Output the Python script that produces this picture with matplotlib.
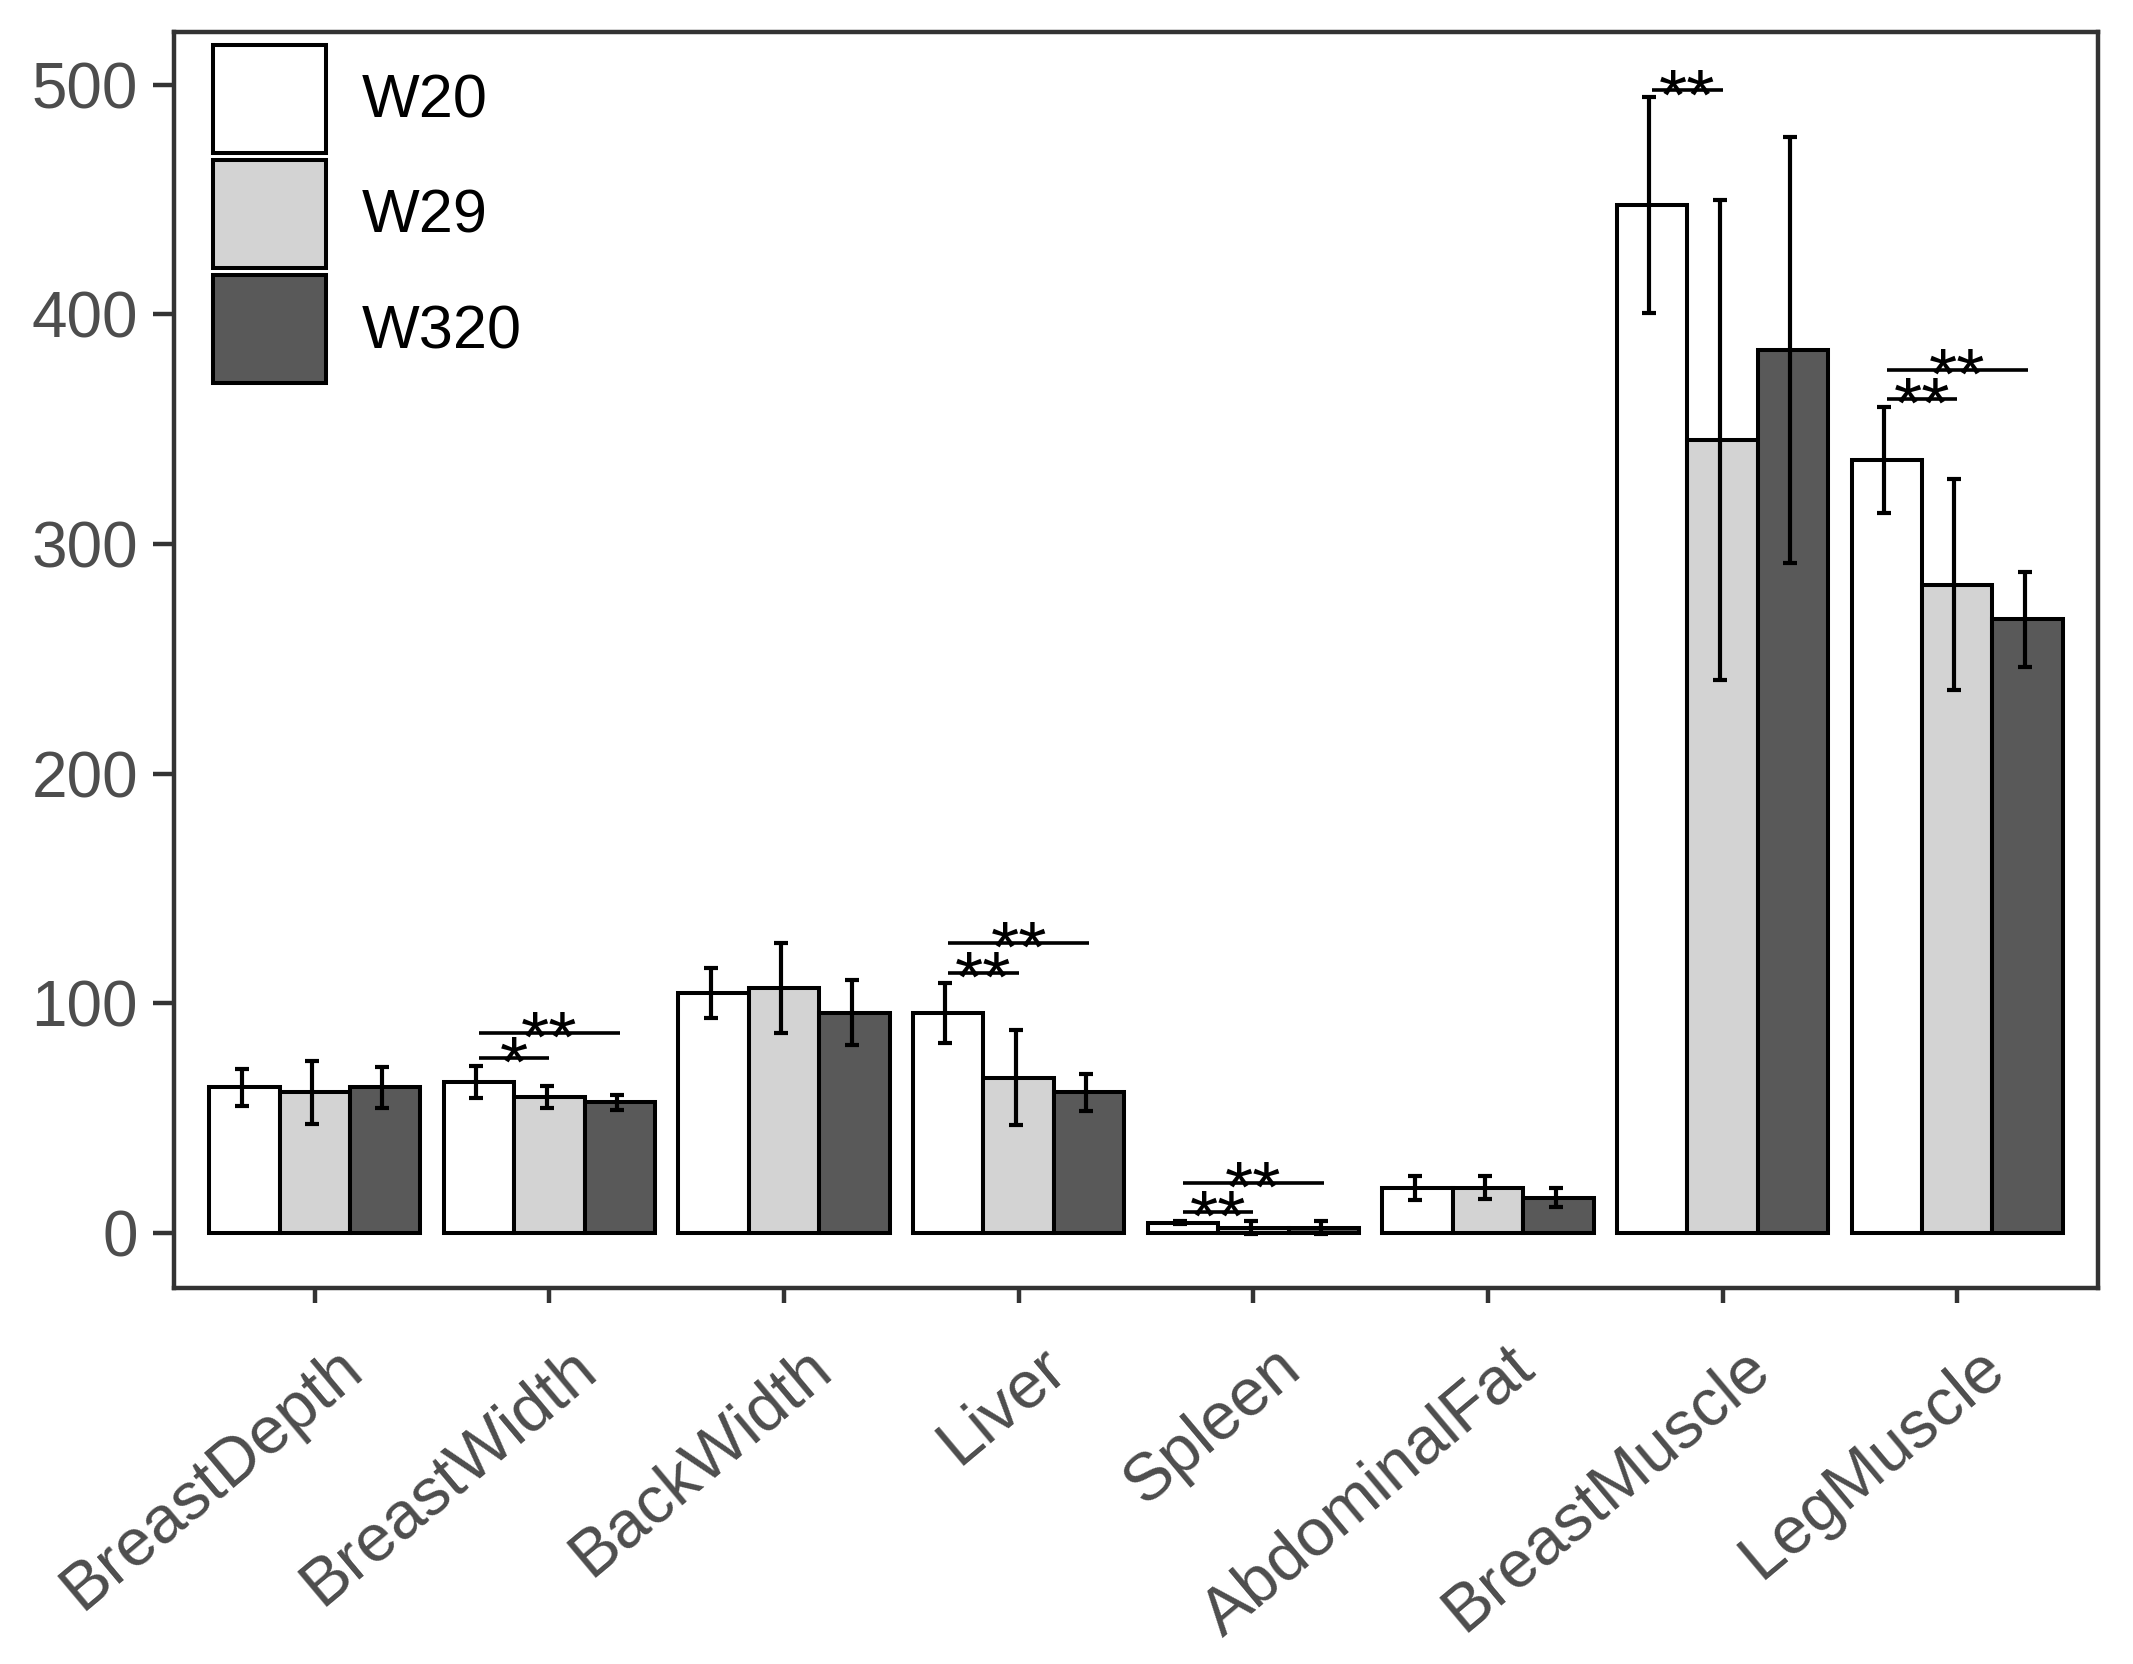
import matplotlib
matplotlib.use('Agg')
import matplotlib.pyplot as plt
import numpy as np
from matplotlib.patches import Patch
from matplotlib.legend_handler import HandlerPatch
from matplotlib.transforms import ScaledTranslation

# ---------------- data ----------------
categories = ['BreastDepth', 'BreastWidth', 'BackWidth', 'Liver', 'Spleen',
              'AbdominalFat', 'BreastMuscle', 'LegMuscle']
groups = ['W20', 'W29', 'W320']

w20_mean = [63.4, 65.6, 104.5, 95.8, 4.5, 19.7, 447.4, 336.6]
w20_sd = [8.0, 6.9, 10.9, 13.0, 0.6, 5.2, 47.0, 23.2]
w29_mean = [61.2, 59.1, 106.5, 67.5, 2.3, 19.7, 345.2, 282.2]
w29_sd = [13.6, 4.7, 19.5, 20.7, 2.8, 5.0, 104.5, 45.9]
w320_mean = [63.4, 56.9, 95.8, 61.2, 2.3, 15.4, 384.5, 267.1]
w320_sd = [9.0, 3.3, 14.2, 8.0, 2.8, 4.2, 92.7, 20.8]

sig_category = ['BreastWidth', 'BreastWidth', 'Liver', 'Liver', 'Spleen', 'Spleen',
                'BreastMuscle', 'LegMuscle', 'LegMuscle']
sig_from = ['W20', 'W20', 'W20', 'W20', 'W20', 'W20', 'W20', 'W20', 'W20']
sig_to = ['W29', 'W320', 'W29', 'W320', 'W29', 'W320', 'W29', 'W29', 'W320']
sig_y = [76.2, 87.1, 113.2, 126.1, 9.0, 21.9, 497.4, 362.9, 375.9]
sig_label = ['*', '**', '**', '**', '**', '**', '**', '**', '**']

yticks = [0, 100, 200, 300, 400, 500]
colors = ['#FFFFFF', '#D3D3D3', '#595959']

# ---------------- style ----------------
plt.rcParams['font.family'] = ['Liberation Sans', 'DejaVu Sans']
W, H, DPI = 2133, 1664, 200
fig = plt.figure(figsize=(W / DPI, H / DPI), dpi=DPI)
ax_l, ax_r, ax_t, ax_b = 174, 2098, 31.7, 1288
ax = fig.add_axes([ax_l / W, 1 - ax_b / H, (ax_r - ax_l) / W, (ax_b - ax_t) / H])

x = np.arange(1, len(categories) + 1)
bar_w = 0.3
offsets = {'W20': -0.3, 'W29': 0.0, 'W320': 0.3}
means = [w20_mean, w29_mean, w320_mean]
sds = [w20_sd, w29_sd, w320_sd]

for g, m, s, c in zip(groups, means, sds, colors):
    ax.bar(x + offsets[g], m, bar_w, color=c, edgecolor='black', linewidth=1.45, zorder=2)
    ax.errorbar(x + offsets[g] - 0.012, m, yerr=s, fmt='none', ecolor='black',
                elinewidth=1.5, capsize=2.5, capthick=1.5, zorder=3)

for cat, g1, g2, yv, lab in zip(sig_category, sig_from, sig_to, sig_y, sig_label):
    ci = categories.index(cat) + 1
    x1 = ci + offsets[g1]
    x2 = ci + offsets[g2]
    ax.plot([x1, x2], [yv, yv], color='black', lw=1.3, zorder=4, solid_capstyle='butt')
    ax.annotate(lab, xy=((x1 + x2) / 2, yv), xytext=(0, -10.3), textcoords='offset points',
                ha='center', va='baseline', fontsize=26, color='black', zorder=5)

ax.set_xlim(0.4, 8.6)
ax.set_ylim(-24, 523)
ax.set_yticks(yticks)
ax.set_yticklabels([str(v) for v in yticks])
ax.set_xticks(x)
ax.set_xticklabels(categories, rotation=40, ha='right', va='top', rotation_mode='anchor')

for sp in ax.spines.values():
    sp.set_color('#333333')
    sp.set_linewidth(1.6)
ax.tick_params(axis='y', length=7.5, width=1.6, color='#333333', pad=5.5,
               labelsize=23, labelcolor='#4D4D4D')
ax.tick_params(axis='x', length=5.4, width=1.6, color='#333333', pad=3,
               labelsize=24, labelcolor='#4D4D4D')
for lbl in ax.get_xticklabels():
    lbl.set_transform(lbl.get_transform() + ScaledTranslation(7 / 72, -9 / 72, fig.dpi_scale_trans))

handles = [Patch(facecolor=c, edgecolor='black', linewidth=1.45, label=g)
           for g, c in zip(groups, colors)]
leg = ax.legend(handles=handles, loc='upper left', bbox_to_anchor=(0.0203, 0.9894),
                frameon=False, fontsize=22, handlelength=1.85, handleheight=2.343,
                labelspacing=0.115, handletextpad=0.59, borderpad=0, borderaxespad=0,
                handler_map={Patch: HandlerPatch()})

fig.savefig('out.png', dpi=DPI, facecolor='white')
